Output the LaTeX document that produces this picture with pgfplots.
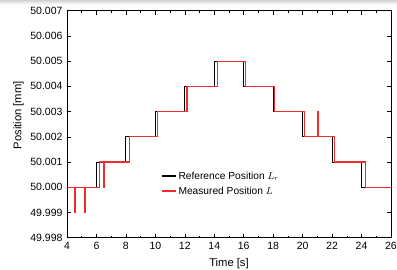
\documentclass[border=0pt]{standalone}
\usepackage{pgfplots}
\pgfplotsset{compat=1.18}
\usepackage{fontspec}
\setmainfont{Liberation Sans}
\definecolor{mred}{RGB}{238,45,45}
\begin{document}
\begin{tikzpicture}
\useasboundingbox (-67pt,-32.3pt) rectangle (330pt,237.7pt);
\shade[top color=gray!35, bottom color=white, draw=none] (-67pt,233pt) rectangle (330pt,237.7pt);
\begin{axis}[
  at={(0,0)}, anchor=south west,
  scale only axis,
  width=324pt, height=227pt,
  xmin=4, xmax=26, ymin=49.998, ymax=50.007,
  xtick={4,6,...,26},
  minor x tick num=1,
  ytick={49.998,49.999,50.000,50.001,50.002,50.003,50.004,50.005,50.006,50.007},
  yticklabels={49.998,49.999,50.000,50.001,50.002,50.003,50.004,50.005,50.006,50.007},
  tick align=inside,
  major tick length=4pt, minor tick length=2pt,
  every tick/.style={black, line width=0.6pt},
  axis line style={line width=0.8pt},
  /pgf/number format/assume math mode=true,
  ticklabel style={font=\fontsize{10.5}{12}\selectfont},
  xticklabel style={yshift=-1pt},
  yticklabel style={xshift=-1pt},
  xlabel={Time [s]},
  ylabel={Position [mm]},
  label style={font=\fontsize{11.2}{13}\selectfont},
  xlabel style={at={(axis description cs:0.5,0)}, anchor=center, yshift=-26pt},
  ylabel style={at={(axis description cs:0,0.5)}, anchor=center, yshift=48.5pt, xshift=9pt},
  legend style={at={(0.29,0.2366)}, anchor=west, draw=none, fill=none, inner sep=0pt,
    font=\fontsize{10.2}{12}\selectfont, row sep=2pt,
    /tikz/every even column/.style={column sep=0pt}},
  legend cell align=left,
  clip=false,
]
\addplot[const plot, black, line width=1pt,
  legend image code/.code={\draw[black, line width=1.2pt] (0pt,0.5pt) -- (14pt,0.5pt);}] coordinates {
 (4,50.000) (6,50.001) (8,50.002) (10,50.003) (12,50.004) (14,50.005)
 (16,50.004) (18,50.003) (20,50.002) (22,50.001) (24,50.000) (26,50.000)
};
\addlegendentry{Reference Position $L_r$}
\addplot[const plot, mred, line width=1.2pt,
  legend image code/.code={\draw[mred, line width=1.4pt] (0pt,0.5pt) -- (14pt,0.5pt);}] coordinates {
 (4,50.000) (4.5,49.999) (4.54,50.000) (5.2,49.999) (5.24,50.000)
 (6.2,50.001) (6.5,50.000) (6.54,50.001) (8.25,50.002) (10.12,50.003)
 (12.15,50.004) (14.2,50.005) (16.1,50.004) (18.1,50.003) (20.1,50.002)
 (21.0,50.003) (21.04,50.002) (22.15,50.001) (24.25,50.000) (26,50.000)
};
\addlegendentry{Measured Position $L$}
\end{axis}
\end{tikzpicture}
\end{document}
